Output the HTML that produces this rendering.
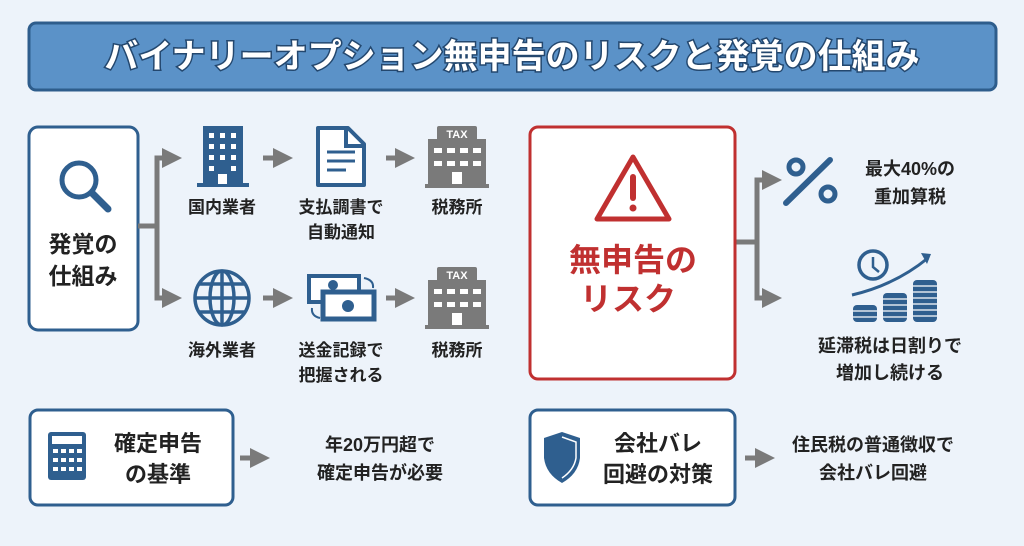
<!DOCTYPE html>
<html><head><meta charset="utf-8"><style>
body{margin:0;background:#edf3fa;width:1024px;height:541px;overflow:hidden;font-family:"Liberation Sans","Noto Sans CJK JP",sans-serif;}
svg text{font-family:"Liberation Sans","Noto Sans CJK JP",sans-serif;font-weight:bold;}
</style></head><body>
<svg width="1024" height="541" viewBox="0 0 1024 541" xmlns="http://www.w3.org/2000/svg">
<defs>
<marker id="ah" markerWidth="4" markerHeight="4" refX="2" refY="2" orient="auto" markerUnits="strokeWidth"><path d="M0,0 L4,2 L0,4 z" fill="#7a7a7a"/></marker>
</defs>
<rect width="1024" height="541" fill="#edf3fa"/>
<rect x="29" y="23" width="967" height="67" rx="7" fill="#5b92c8" stroke="#2e5d8c" stroke-width="3"/>
<text x="512" y="68" font-size="34" text-anchor="middle" fill="#fff" stroke="#23476e" stroke-width="3" paint-order="stroke">バイナリーオプション無申告のリスクと発覚の仕組み</text>

<rect x="29" y="127" width="109" height="203" rx="9" fill="#fff" stroke="#2f5f8f" stroke-width="3"/>
<circle cx="79" cy="180" r="17" fill="none" stroke="#2f5f8f" stroke-width="5"/>
<line x1="92" y1="193" x2="108" y2="209" stroke="#2f5f8f" stroke-width="7" stroke-linecap="round"/>
<text x="83" y="252" font-size="23" text-anchor="middle" fill="#222">発覚の</text>
<text x="83" y="284" font-size="23" text-anchor="middle" fill="#222">仕組み</text>
<g stroke="#7a7a7a" stroke-width="5" fill="none">
<path d="M138,226 H157 V158 H172" marker-end="url(#ah)"/>
<path d="M157,226 V298 H172" marker-end="url(#ah)"/>
<path d="M263,158 H283" marker-end="url(#ah)"/>
<path d="M386,158 H405" marker-end="url(#ah)"/>
<path d="M263,298 H283" marker-end="url(#ah)"/>
<path d="M386,298 H405" marker-end="url(#ah)"/>
<path d="M736,242 H757 V180 H772" marker-end="url(#ah)"/>
<path d="M757,242 V298 H772" marker-end="url(#ah)"/>
<path d="M240,458 H260" marker-end="url(#ah)"/>
<path d="M745,458 H765" marker-end="url(#ah)"/>
</g>
<rect x="203" y="126" width="40" height="58" fill="#2f5f8f"/>
<rect x="197" y="183" width="52" height="4" fill="#2f5f8f"/>
<g fill="#fff">
<rect x="209" y="133" width="5" height="5"/><rect x="220" y="133" width="5" height="5"/><rect x="231" y="133" width="5" height="5"/>
<rect x="209" y="144" width="5" height="5"/><rect x="220" y="144" width="5" height="5"/><rect x="231" y="144" width="5" height="5"/>
<rect x="209" y="155" width="5" height="5"/><rect x="220" y="155" width="5" height="5"/><rect x="231" y="155" width="5" height="5"/>
<rect x="209" y="166" width="5" height="5"/><rect x="231" y="166" width="5" height="5"/>
<rect x="218" y="174" width="9" height="10"/>
</g>
<text x="222" y="213" font-size="17" text-anchor="middle" fill="#222">国内業者</text>
<path d="M318,128 H348 L364,144 V185 H318 Z" fill="#fff" stroke="#2f5f8f" stroke-width="4" stroke-linejoin="round"/>
<path d="M346,128 V146 H364" fill="none" stroke="#2f5f8f" stroke-width="4"/>
<g stroke="#2f5f8f" stroke-width="3"><line x1="327" y1="152" x2="355" y2="152"/><line x1="327" y1="161" x2="355" y2="161"/><line x1="327" y1="170" x2="346" y2="170"/></g>
<text x="341" y="213" font-size="17" text-anchor="middle" fill="#222">支払調書で</text>
<text x="341" y="238" font-size="17" text-anchor="middle" fill="#222">自動通知</text>
<g fill="#7a7a7a">
<rect x="437" y="126" width="40" height="15" rx="2"/>
<rect x="428" y="139" width="58" height="47"/>
<rect x="425" y="184" width="64" height="4"/>
</g>
<text x="457" y="138" font-size="11" text-anchor="middle" fill="#fff">TAX</text>
<g fill="#fff"><rect x="434" y="148" width="8" height="5"/><rect x="447" y="148" width="8" height="5"/><rect x="460" y="148" width="8" height="5"/><rect x="473" y="148" width="8" height="5"/>
<rect x="434" y="161" width="8" height="5"/><rect x="447" y="161" width="8" height="5"/><rect x="460" y="161" width="8" height="5"/><rect x="473" y="161" width="8" height="5"/><rect x="452" y="172" width="10" height="12"/></g>
<text x="457" y="213" font-size="17" text-anchor="middle" fill="#222">税務所</text>
<g fill="#7a7a7a">
<rect x="437" y="267" width="40" height="15" rx="2"/>
<rect x="428" y="280" width="58" height="47"/>
<rect x="425" y="325" width="64" height="4"/>
</g>
<text x="457" y="279" font-size="11" text-anchor="middle" fill="#fff">TAX</text>
<g fill="#fff"><rect x="434" y="289" width="8" height="5"/><rect x="447" y="289" width="8" height="5"/><rect x="460" y="289" width="8" height="5"/><rect x="473" y="289" width="8" height="5"/>
<rect x="434" y="302" width="8" height="5"/><rect x="447" y="302" width="8" height="5"/><rect x="460" y="302" width="8" height="5"/><rect x="473" y="302" width="8" height="5"/><rect x="452" y="313" width="10" height="12"/></g>
<text x="457" y="356" font-size="17" text-anchor="middle" fill="#222">税務所</text>
<g fill="none" stroke="#2f5f8f" stroke-width="3.5">
<circle cx="222" cy="298" r="27"/>
<ellipse cx="222" cy="298" rx="12" ry="27"/>
<line x1="222" y1="271" x2="222" y2="325"/>
<line x1="195" y1="298" x2="249" y2="298"/>
<path d="M199,284 H245 M199,312 H245"/>
</g>
<text x="222" y="356" font-size="17" text-anchor="middle" fill="#222">海外業者</text>
<rect x="309" y="276" width="50" height="26" fill="#fff" stroke="#2f5f8f" stroke-width="4"/>
<circle cx="333" cy="285" r="5" fill="#2f5f8f"/>
<rect x="323" y="292" width="51" height="27" fill="#fff" stroke="#2f5f8f" stroke-width="5"/>
<circle cx="348" cy="306" r="6" fill="#2f5f8f"/>
<path d="M364,278 q10,2 9,10" fill="none" stroke="#2f5f8f" stroke-width="2"/>
<path d="M320,318 q-9,-2 -8,-10" fill="none" stroke="#2f5f8f" stroke-width="2"/>
<text x="341" y="356" font-size="17" text-anchor="middle" fill="#222">送金記録で</text>
<text x="341" y="381" font-size="17" text-anchor="middle" fill="#222">把握される</text>

<rect x="530" y="127" width="205" height="252" rx="8" fill="#fff" stroke="#c03030" stroke-width="3"/>
<path d="M633,157 L669,219 H597 Z" fill="none" stroke="#c03030" stroke-width="5" stroke-linejoin="round"/>
<line x1="633" y1="177" x2="633" y2="198" stroke="#c03030" stroke-width="6" stroke-linecap="round"/>
<circle cx="633" cy="208" r="3.5" fill="#c03030"/>
<text x="633" y="271" font-size="32" text-anchor="middle" fill="#c03030">無申告の</text>
<text x="628" y="310" font-size="32" text-anchor="middle" fill="#c03030">リスク</text>
<circle cx="796" cy="167" r="7" fill="none" stroke="#2f5f8f" stroke-width="5"/>
<circle cx="828" cy="194" r="7" fill="none" stroke="#2f5f8f" stroke-width="5"/>
<line x1="786" y1="203" x2="830" y2="160" stroke="#2f5f8f" stroke-width="6" stroke-linecap="round"/>
<text x="910" y="175" font-size="18" text-anchor="middle" fill="#222">最大40%の</text>
<text x="910" y="203" font-size="18" text-anchor="middle" fill="#222">重加算税</text>
<circle cx="873" cy="265" r="14" fill="none" stroke="#2f5f8f" stroke-width="3.5"/>
<path d="M873,257 V267 L879,272" fill="none" stroke="#2f5f8f" stroke-width="2.5"/>
<path d="M852,295 Q895,285 928,258" fill="none" stroke="#2f5f8f" stroke-width="3"/>
<path d="M921,253 L931,254 L927,264 Z" fill="#2f5f8f"/>
<g fill="#2f5f8f">
<rect x="853" y="305" width="24" height="17" rx="4"/>
<rect x="883" y="293" width="24" height="29" rx="4"/>
<rect x="913" y="280" width="24" height="42" rx="4"/>
</g>
<g stroke="#fff" stroke-width="1.2"><path d="M853,311 h24 M853,317 h24 M883,299 h24 M883,305 h24 M883,311 h24 M883,317 h24 M913,286 h24 M913,292 h24 M913,298 h24 M913,304 h24 M913,310 h24 M913,316 h24"/></g>
<text x="890" y="352" font-size="18" text-anchor="middle" fill="#222">延滞税は日割りで</text>
<text x="890" y="379" font-size="18" text-anchor="middle" fill="#222">増加し続ける</text>

<rect x="30" y="410" width="203" height="95" rx="8" fill="#fff" stroke="#2f5f8f" stroke-width="3"/>
<rect x="48" y="432" width="38" height="48" rx="3" fill="#2f5f8f"/>
<rect x="52" y="436" width="30" height="8" fill="#fff"/>
<g fill="#fff"><rect x="53" y="449" width="5" height="4"/><rect x="61" y="449" width="5" height="4"/><rect x="69" y="449" width="5" height="4"/><rect x="77" y="449" width="5" height="4"/>
<rect x="53" y="458" width="5" height="4"/><rect x="61" y="458" width="5" height="4"/><rect x="69" y="458" width="5" height="4"/><rect x="77" y="458" width="5" height="4"/>
<rect x="53" y="467" width="5" height="4"/><rect x="61" y="467" width="5" height="4"/><rect x="69" y="467" width="5" height="4"/><rect x="77" y="467" width="5" height="4"/></g>
<text x="158" y="451" font-size="22" text-anchor="middle" fill="#222">確定申告</text>
<text x="158" y="482" font-size="22" text-anchor="middle" fill="#222">の基準</text>
<text x="380" y="451" font-size="18" text-anchor="middle" fill="#222">年20万円超で</text>
<text x="380" y="479" font-size="18" text-anchor="middle" fill="#222">確定申告が必要</text>

<rect x="530" y="410" width="205" height="95" rx="8" fill="#fff" stroke="#2f5f8f" stroke-width="3"/>
<path d="M562,432 L580,438 V458 Q578,474 562,483 Q546,474 544,458 V438 Z" fill="#2f5f8f"/>
<path d="M562,437 L576,442 V458 Q574,470 562,478" fill="none" stroke="#fff" stroke-width="1.5"/>
<text x="658" y="451" font-size="22" text-anchor="middle" fill="#222">会社バレ</text>
<text x="658" y="482" font-size="22" text-anchor="middle" fill="#222">回避の対策</text>
<text x="873" y="451" font-size="18" text-anchor="middle" fill="#222">住民税の普通徴収で</text>
<text x="873" y="479" font-size="18" text-anchor="middle" fill="#222">会社バレ回避</text>
</svg>
</body></html>
